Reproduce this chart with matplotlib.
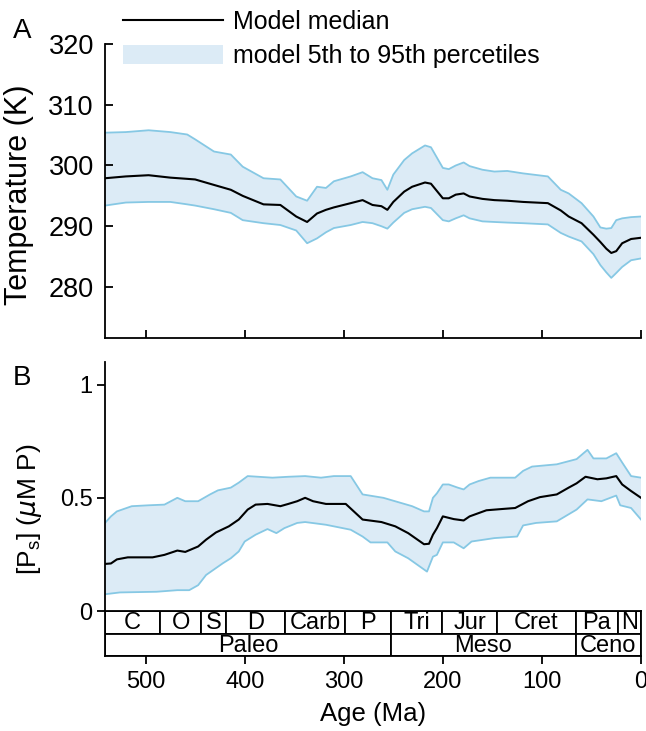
import matplotlib
matplotlib.use("Agg")
import matplotlib.pyplot as plt
from matplotlib.lines import Line2D
from matplotlib.patches import Patch

plt.rcParams["font.family"] = ["Liberation Sans", "DejaVu Sans"]
plt.rcParams["mathtext.fontset"] = "dejavusans"

# ---- panel A: temperature (K) ----
age_a = [541, 520, 497, 475, 458, 450, 431, 414, 402, 381, 364, 348, 337, 327,
         318, 310, 293, 281, 271, 262, 256, 250, 239, 231, 218, 212, 200, 194,
         187, 179, 173, 160, 148, 135, 119, 94, 81, 73, 60, 48, 41, 35, 30, 25,
         19, 10, 0]
temp_hi = [305.4, 305.5, 305.8, 305.5, 305.1, 304.3, 302.3, 301.8, 299.8, 297.9,
           297.7, 294.9, 294.2, 296.5, 296.3, 297.4, 298.2, 298.9, 297.9, 297.6,
           296.0, 298.5, 300.9, 302.0, 303.3, 303.0, 299.6, 299.4, 300.0, 300.5,
           299.9, 299.3, 299.0, 299.1, 298.7, 298.2, 296.0, 295.4, 293.8, 291.6,
           289.8, 289.6, 289.7, 291.0, 291.3, 291.5, 291.6]
temp_med = [297.9, 298.2, 298.4, 298.0, 297.8, 297.7, 296.8, 296.0, 295.0, 293.6,
            293.5, 291.6, 290.7, 292.1, 292.7, 293.1, 293.8, 294.3, 293.5, 293.3,
            292.7, 294.0, 295.7, 296.5, 297.2, 297.0, 294.6, 294.6, 295.2, 295.4,
            294.9, 294.5, 294.3, 294.2, 294.0, 293.8, 292.6, 291.6, 290.5, 288.6,
            287.4, 286.3, 285.6, 285.9, 287.2, 287.9, 288.1]
temp_lo = [293.4, 293.9, 294.0, 294.0, 293.6, 293.4, 292.8, 292.2, 291.0, 290.5,
           290.2, 289.3, 287.2, 288.0, 289.0, 289.7, 290.2, 290.7, 290.5, 290.0,
           289.6, 290.6, 292.2, 292.8, 293.2, 293.0, 291.0, 290.8, 291.3, 291.8,
           291.3, 290.8, 290.7, 290.6, 290.5, 290.3, 288.9, 288.3, 287.5, 285.4,
           283.6, 282.4, 281.5, 282.3, 283.3, 284.4, 284.7]

# ---- panel B: [Ps] (uM P) ----
age_b_hi = [541, 535, 529, 514, 497, 481, 468, 460, 447, 435, 427, 414, 406, 397,
            372, 356, 339, 323, 310, 293, 281, 260, 231, 219, 214, 210, 206, 200,
            194, 185, 179, 173, 164, 152, 127, 119, 110, 85, 65, 54, 48, 35, 25,
            19, 10, 0]
ps_hi = [0.389, 0.418, 0.44, 0.463, 0.467, 0.47, 0.50, 0.485, 0.485, 0.515, 0.533,
         0.545, 0.567, 0.596, 0.589, 0.593, 0.596, 0.589, 0.596, 0.596, 0.515,
         0.50, 0.463, 0.44, 0.44, 0.50, 0.52, 0.559, 0.559, 0.545, 0.537, 0.559,
         0.574, 0.589, 0.589, 0.619, 0.638, 0.648, 0.671, 0.712, 0.674, 0.674,
         0.697, 0.656, 0.596, 0.589]

age_b_med = [541, 535, 529, 518, 493, 481, 468, 460, 447, 439, 429, 416, 406, 397,
             389, 377, 364, 356, 347, 339, 331, 318, 298, 281, 262, 248, 235, 219,
             214, 210, 206, 200, 189, 179, 173, 156, 139, 127, 114, 102, 85, 73,
             65, 56, 44, 35, 25, 19, 10, 0]
ps_med = [0.208, 0.21, 0.228, 0.237, 0.237, 0.248, 0.267, 0.261, 0.285, 0.315,
          0.347, 0.374, 0.404, 0.448, 0.47, 0.473, 0.463, 0.473, 0.485, 0.50,
          0.485, 0.473, 0.473, 0.404, 0.393, 0.374, 0.344, 0.295, 0.297, 0.337,
          0.366, 0.418, 0.406, 0.40, 0.418, 0.445, 0.451, 0.455, 0.485, 0.503,
          0.515, 0.545, 0.564, 0.593, 0.582, 0.586, 0.596, 0.559, 0.53, 0.50]

age_b_lo = [541, 526, 489, 468, 456, 447, 439, 422, 414, 406, 400, 389, 377, 368,
            360, 347, 339, 318, 293, 281, 273, 256, 248, 235, 216, 210, 206, 200,
            189, 179, 171, 148, 125, 119, 106, 85, 65, 54, 40, 25, 21, 10, 0]
ps_lo = [0.074, 0.082, 0.085, 0.092, 0.092, 0.114, 0.159, 0.211, 0.233, 0.263,
         0.307, 0.337, 0.362, 0.344, 0.366, 0.389, 0.393, 0.381, 0.359, 0.329,
         0.303, 0.303, 0.263, 0.233, 0.174, 0.240, 0.248, 0.303, 0.303, 0.277,
         0.307, 0.322, 0.329, 0.378, 0.389, 0.396, 0.448, 0.493, 0.485, 0.510,
         0.467, 0.455, 0.404]

# ---- geologic timescale ----
periods = ["C", "O", "S", "D", "Carb", "P", "Tri", "Jur", "Cret", "Pa", "N"]
period_start = [541, 485, 444, 419, 359, 299, 252, 201, 145, 66, 23]
period_end = [485, 444, 419, 359, 299, 252, 201, 145, 66, 23, 0]
eras = ["Paleo", "Meso", "Ceno"]
era_start = [541, 252, 66]
era_end = [252, 66, 0]
age_ticks = [500, 400, 300, 200, 100, 0]

FILL = "#dcebf6"
EDGE = "#86c8e4"
W, H = 646, 731


def fig_box(left, top, right, bottom):
    return [left / W, 1 - bottom / H, (right - left) / W, (bottom - top) / H]


fig = plt.figure(figsize=(W / 100, H / 100), dpi=100)
ax_a = fig.add_axes(fig_box(105, 44, 641, 338))
ax_b = fig.add_axes(fig_box(105, 362, 641, 611))
ax_t = fig.add_axes(fig_box(105, 611, 641, 656))


def band(ax, x_hi, hi, x_med, med, x_lo, lo):
    ax.fill(list(x_hi) + list(x_lo)[::-1], list(hi) + list(lo)[::-1],
            facecolor=FILL, edgecolor="none", zorder=1)
    ax.plot(x_hi, hi, color=EDGE, lw=1.3, zorder=2)
    ax.plot(x_lo, lo, color=EDGE, lw=1.3, zorder=2)
    ax.plot(x_med, med, color="black", lw=1.5, zorder=3)


band(ax_a, age_a, temp_hi, age_a, temp_med, age_a, temp_lo)
band(ax_b, age_b_hi, ps_hi, age_b_med, ps_med, age_b_lo, ps_lo)

for ax in (ax_a, ax_b, ax_t):
    ax.set_xlim(541, 0)
    for s in ax.spines.values():
        s.set_linewidth(1.3)

for ax in (ax_a, ax_b):
    ax.spines["top"].set_visible(False)
    ax.spines["right"].set_visible(False)

ax_a.set_ylim(271.6, 320)
ax_a.set_yticks([280, 290, 300, 310, 320])
ax_a.set_xticks(age_ticks)
ax_a.set_xticklabels([])
ax_a.tick_params(direction="in", length=6, width=1.3, labelsize=19.5, pad=8)
ax_a.set_ylabel("Temperature (K)", fontsize=22)
ax_a.yaxis.set_label_coords(-0.132, 0.486)

ax_b.set_ylim(0, 1.1)
ax_b.set_yticks([0, 0.5, 1])
ax_b.set_yticklabels(["0", "0.5", "1"])
ax_b.spines["bottom"].set_visible(False)
ax_b.set_xticks([])
ax_b.tick_params(axis="y", direction="out", length=6, width=1.3, labelsize=17,
                 pad=3)
ax_b.set_ylabel(r"[P$_{\mathregular{s}}$] ($\mu$M P)", fontsize=19)
ax_b.yaxis.set_label_coords(-0.114, 0.41)

ax_t.set_ylim(0, 2)
ax_t.set_yticks([])
ax_t.set_xticks(age_ticks)
ax_t.tick_params(axis="x", direction="out", length=6, width=1.3, labelsize=17,
                 pad=5)
ax_t.set_xlabel("Age (Ma)", fontsize=18.5, labelpad=6)
for name, a0, a1 in zip(periods, period_start, period_end):
    ax_t.barh(1.5, a0 - a1, left=a1, height=1, color="white",
              edgecolor="black", lw=1.3)
    ax_t.text((a0 + a1) / 2, 1.45, name, ha="center", va="center", fontsize=17)
for name, a0, a1 in zip(eras, era_start, era_end):
    ax_t.barh(0.5, a0 - a1, left=a1, height=1, color="white",
              edgecolor="black", lw=1.3)
    ax_t.text((a0 + a1) / 2, 0.45, name, ha="center", va="center", fontsize=17)

handles = [Line2D([], [], color="black", lw=1.5),
           Patch(facecolor=FILL, edgecolor="none")]
fig.legend(handles, ["Model median", "model 5th to 95th percetiles"],
           loc="upper left", bbox_to_anchor=(123 / W, 1 - 10 / H),
           frameon=False, fontsize=18, handlelength=4.0, handleheight=0.8,
           handletextpad=0.4, labelspacing=0.42, borderpad=0, borderaxespad=0)

fig.text(22 / W, 1 - 31 / H, "A", fontsize=20, ha="center", va="center")
fig.text(22 / W, 1 - 378 / H, "B", fontsize=20, ha="center", va="center")

fig.savefig("out.png", dpi=100)
